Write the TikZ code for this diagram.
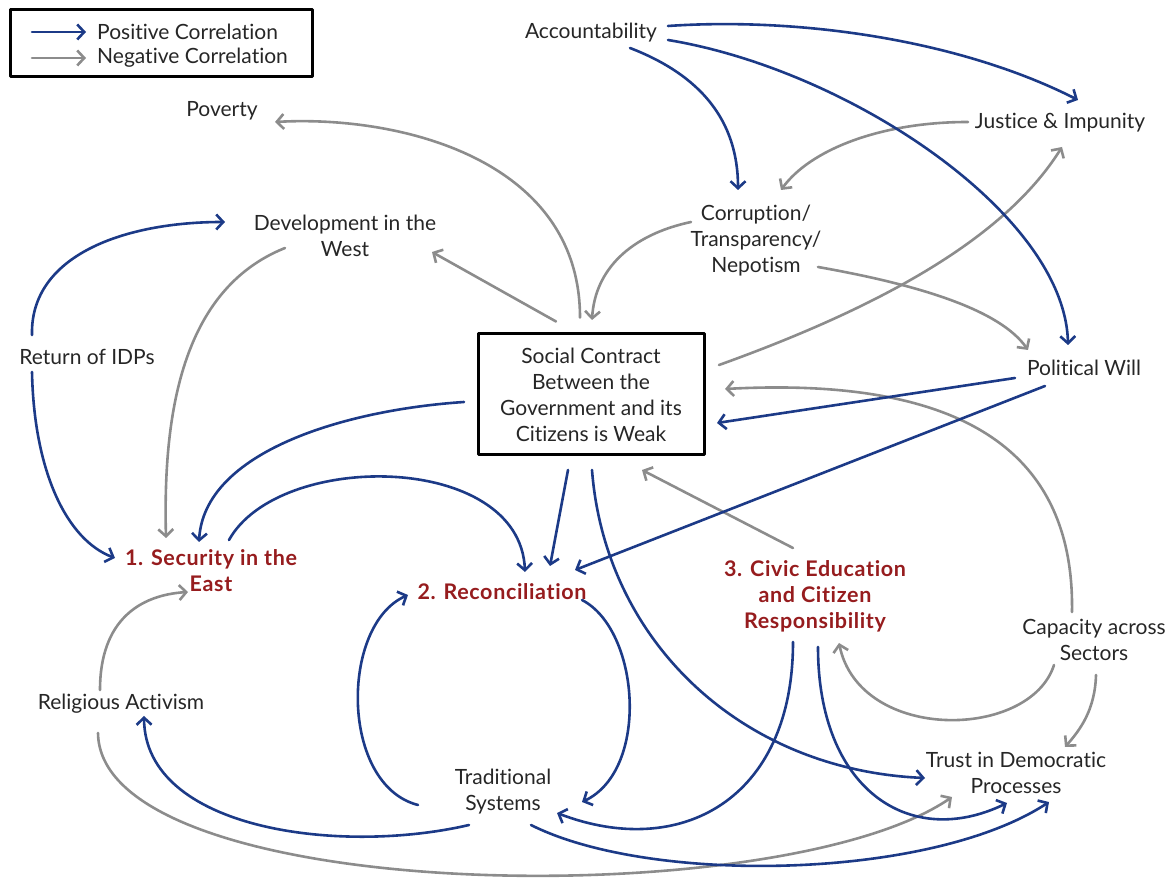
\documentclass[tikz,border=0pt]{standalone}
\usepackage{fontspec}
\setmainfont{Lato}[Ligatures=NoCommon]
\usetikzlibrary{arrows.meta,calc}
\definecolor{posblue}{RGB}{28,58,135}
\definecolor{neggrey}{RGB}{140,140,140}
\definecolor{goalred}{RGB}{150,28,30}
\definecolor{txtgrey}{RGB}{38,38,38}
\tikzset{
  poslink/.style={draw=posblue, line width=2.6pt, -{Straight Barb[length=7pt,width=15pt]}},
  neglink/.style={poslink, draw=neggrey},
  lbl/.style={text=txtgrey, align=center, inner sep=0pt, font=\fontsize{21}{26}\selectfont},
  goal/.style={lbl, text=goalred, font=\fontsize{21.5}{26}\selectfont\bfseries\addfontfeature{LetterSpace=3}},
}
\begin{document}
\begin{tikzpicture}[x=1pt, y=1pt, line cap=round, line join=round]
\useasboundingbox (0,0) rectangle (1170,886);
% legend
\draw[line width=3pt] (10,809) rectangle (312,876);
\node[lbl, anchor=west] (lpos) at (97,854) {Positive Correlation};
\node[lbl, anchor=west] (lneg) at (97,828) {Negative Correlation};
\draw[poslink] ([xshift=-65pt]lpos.west) -- ([xshift=-11pt]lpos.west);
\draw[neglink] ([xshift=-65pt]lneg.west) -- ([xshift=-11pt]lneg.west);
% factors
\node[lbl] (acc) at (591,853) {Accountability};
\node[lbl] (pov) at (222,775) {Poverty};
\node[lbl] (jus) at (1060,763) {Justice \& Impunity};
\node[lbl] (dev) at (345,650) {Development in the\\West};
\node[lbl] (cor) at (756,645) {Corruption/\\Transparency/\\Nepotism};
\node[lbl] (ret) at (87,529) {Return of IDPs};
\node[lbl, draw=black, line width=3pt, minimum width=226pt, minimum height=121pt] (soc) at (591,491.5) {Social Contract\\Between the\\Government and its\\Citizens is Weak};
\node[lbl] (pol) at (1084,518) {Political Will};
\node[goal] (sec) at (211,315) {1. Security in the\\East};
\node[goal] (rec) at (502,294) {2. Reconciliation};
\node[goal] (civ) at (815,290) {3. Civic Education\\and Citizen\\Responsibility};
\node[lbl] (cap) at (1094,246) {Capacity across\\Sectors};
\node[lbl] (rel) at (121,182) {Religious Activism};
\node[lbl] (tra) at (503,94) {Traditional\\Systems};
\node[lbl] (tru) at (1016,113) {Trust in Democratic\\Processes};
% negative correlations
\draw[neglink] ($(soc)+(-11,77)$) .. controls +(0,158) and +(125,7) .. ($(pov)+(53,-11)$);
\draw[neglink] ($(soc)+(-35,73)$) -- ($(dev)+(87,-16)$);
\draw[neglink] ($(dev)+(-60,-12)$) .. controls +(-105,-42) and +(-3,120) .. ($(sec)+(-45,33)$);
\draw[neglink] ($(cor)+(-65,19)$) .. controls +(-61,-13) and +(3,50) .. ($(soc)+(1,74.5)$);
\draw[neglink] ($(jus)+(-92,1)$) .. controls +(-88,0) and +(29,40) .. ($(cor)+(25,51)$);
\draw[neglink] ($(soc)+(128,29.5)$) .. controls +(181,65) and +(-52,-83) .. ($(jus)+(2,-24)$);
\draw[neglink] ($(cor)+(62,-26)$) .. controls +(102,-18) and +(-28,40) .. ($(pol)+(-56,18)$);
\draw[neglink] ($(cap)+(-22,28)$) .. controls +(3,182) and +(205,11) .. ($(soc)+(134,5.5)$);
\draw[neglink] ($(civ)+(-22,48)$) -- ($(soc)+(51,-75.5)$);
\draw[neglink] ($(cap)+(-40,-25)$) .. controls +(-24,-75) and +(21,-100) .. ($(civ)+(24,-47)$);
\draw[neglink] ($(cap)+(2,-35)$) .. controls +(-1,-35) and +(15,17) .. ($(tru)+(49,26)$);
\draw[neglink] ($(rel)+(-21,14)$) .. controls +(0,70) and +(-48,-3) .. ($(sec)+(-23,-21)$);
\draw[neglink] ($(rel)+(-23,-29)$) .. controls +(2,-172) and +(-172,-118) .. ($(tru)+(-64,-24)$);
% positive correlations
\draw[poslink] ($(acc)+(77,7)$) .. controls +(132,9) and +(-118,60) .. ($(jus)+(18,23)$);
\draw[poslink] ($(acc)+(39,-15)$) .. controls +(70,-27) and +(0,70) .. ($(cor)+(-18,51)$);
\draw[poslink] ($(acc)+(77,-7)$) .. controls +(182,-30) and +(-3,130) .. ($(pol)+(-16,23)$);
\draw[poslink] ($(ret)+(-55,22)$) .. controls +(-2,80) and +(-100,0) .. ($(dev)+(-120,14)$);
\draw[poslink] ($(ret)+(-55,-15)$) .. controls +(2,-100) and +(-48,18) .. ($(sec)+(-96,13)$);
\draw[poslink] ($(soc)+(-127,-7.5)$) .. controls +(-120,-8) and +(5,90) .. ($(sec)+(-12,29)$);
\draw[poslink] ($(sec)+(18,31)$) .. controls +(50,90) and +(-5,120) .. ($(rec)+(23,20)$);
\draw[poslink] ($(soc)+(-23,-75.5)$) -- ($(rec)+(48,26)$);
\draw[poslink] ($(pol)+(-69,-10)$) -- ($(soc)+(126,-28.5)$);
\draw[poslink] ($(pol)+(-39,-18)$) -- ($(rec)+(73,22)$);
\draw[poslink] ($(soc)+(1,-75.5)$) .. controls +(13,-170) and +(-185,8) .. ($(tru)+(-91,-5)$);
\draw[poslink] ($(rec)+(80,-8)$) .. controls +(58,-30) and +(68,32) .. ($(tra)+(79,-10)$);
\draw[poslink] ($(tra)+(-85,-13)$) .. controls +(-78,20) and +(-68,-30) .. ($(rec)+(-94,-3)$);
\draw[poslink] ($(tra)+(-34,-33)$) .. controls +(-129,-30) and +(1,-114) .. ($(rel)+(23,-12)$);
\draw[poslink] ($(civ)+(-22,-46)$) .. controls +(0,-158) and +(123,-47) .. ($(tra)+(54,-21)$);
\draw[poslink] ($(civ)+(3,-51)$) .. controls +(0,-143) and +(-97,-47) .. ($(tru)+(-9,-30)$);
\draw[poslink] ($(tra)+(28,-33)$) .. controls +(119,-60) and +(-119,-78) .. ($(tru)+(33,-29)$);
\end{tikzpicture}
\end{document}
